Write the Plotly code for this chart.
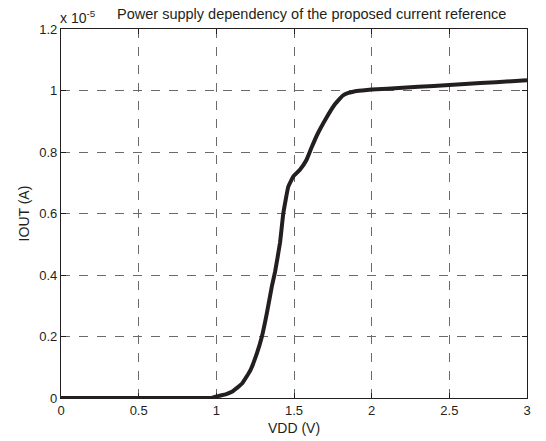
import plotly.graph_objects as go

# VDD (V) and IOUT (in units of 1e-5 A)
vdd = [0.0, 0.5, 0.9, 0.97, 1.017, 1.06, 1.10, 1.166, 1.219, 1.261, 1.293, 1.325, 1.357,
       1.378, 1.41, 1.431, 1.463, 1.495, 1.538, 1.58, 1.611, 1.654, 1.707, 1.76, 1.813,
       1.85, 1.888, 1.94, 2.0, 2.2, 2.4, 2.6, 2.8, 3.0]
iout = [0.0, 0.0, 0.0, 0.0, 0.007, 0.012, 0.02, 0.047, 0.09, 0.145, 0.199, 0.275, 0.362,
        0.41, 0.505, 0.60, 0.687, 0.72, 0.742, 0.774, 0.812, 0.861, 0.91, 0.953, 0.983,
        0.992, 0.997, 1.0, 1.003, 1.009, 1.015, 1.021, 1.027, 1.033]

x_ticks = [0, 0.5, 1, 1.5, 2, 2.5, 3]
x_tick_labels = ["0", "0.5", "1", "1.5", "2", "2.5", "3"]
y_ticks = [0, 0.2, 0.4, 0.6, 0.8, 1.0, 1.2]
y_tick_labels = ["0", "0.2", "0.4", "0.6", "0.8", "1", "1.2"]

title_text = "Power supply dependency of the proposed current reference"
x_title = "VDD (V)"
y_title = "IOUT (A)"

font = "Liberation Sans, Arial, sans-serif"
ink = "#231f20"

fig = go.Figure()
fig.add_trace(go.Scatter(
    x=vdd, y=iout, mode="lines",
    line=dict(color=ink, width=4, shape="spline", smoothing=0.3),
    showlegend=False,
))

axis_common = dict(
    showline=True, linecolor=ink, linewidth=1.2, mirror="ticks",
    ticks="inside", ticklen=5, tickcolor=ink, tickwidth=1,
    showgrid=True, gridcolor="#6a6a6a", griddash="dash", gridwidth=1,
    zeroline=False, automargin=False,
    tickfont=dict(family=font, size=13, color=ink),
)

fig.update_xaxes(
    range=[0, 3], tickvals=x_ticks, ticktext=x_tick_labels,
    title=dict(text=x_title, font=dict(family=font, size=14, color=ink), standoff=6),
    **axis_common,
)
fig.update_yaxes(
    range=[0, 1.2], tickvals=y_ticks, ticktext=y_tick_labels,
    title=dict(text=y_title, font=dict(family=font, size=14, color=ink), standoff=6),
    **axis_common,
)

fig.add_annotation(
    x=0, y=1.0, xref="paper", yref="paper", xanchor="left", yanchor="bottom",
    text="x 10<sup>-5</sup>", showarrow=False, xshift=-3, yshift=1,
    font=dict(family=font, size=14, color=ink),
)
fig.add_annotation(
    x=0.537, y=1.0, xref="paper", yref="paper", xanchor="center", yanchor="bottom",
    text=title_text, showarrow=False, yshift=5,
    font=dict(family=font, size=14.5, color=ink),
)

fig.update_layout(
    width=546, height=441,
    margin=dict(l=61, r=19, t=29, b=43),
    paper_bgcolor="white", plot_bgcolor="white",
)

fig.write_html("out.html")
